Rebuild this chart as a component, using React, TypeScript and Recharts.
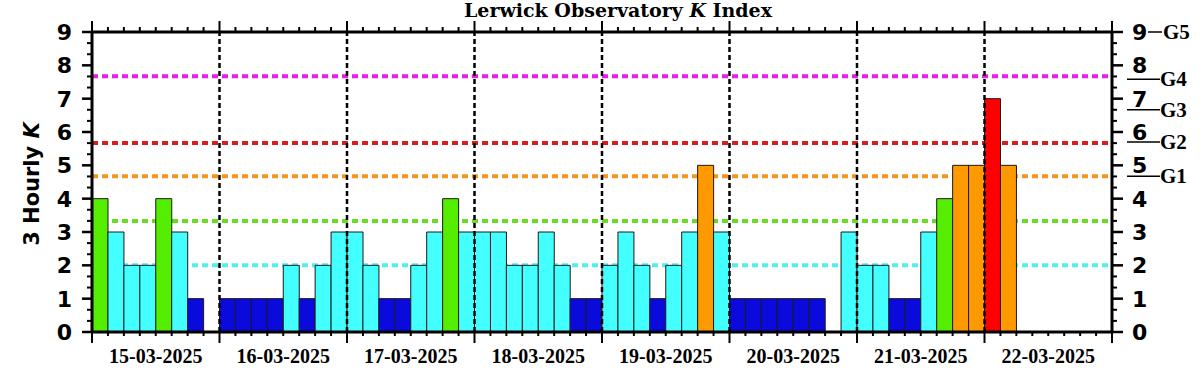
import React from "react";
import { Bar, ComposedChart, Cell, Line, ReferenceLine, XAxis, YAxis } from "recharts";

const DAYS = [
  "15-03-2025",
  "16-03-2025",
  "17-03-2025",
  "18-03-2025",
  "19-03-2025",
  "20-03-2025",
  "21-03-2025",
  "22-03-2025",
];

// 3-hourly K values, 8 per day (null = no value yet)
const K_15 = [4, 3, 2, 2, 4, 3, 1, null];
const K_16 = [1, 1, 1, 1, 2, 1, 2, 3];
const K_17 = [3, 2, 1, 1, 2, 3, 4, 3];
const K_18 = [3, 3, 2, 2, 3, 2, 1, 1];
const K_19 = [2, 3, 2, 1, 2, 3, 5, 3];
const K_20 = [1, 1, 1, 1, 1, 1, null, 3];
const K_21 = [2, 2, 1, 1, 3, 4, 5, 5];
const K_22 = [7, 5, null, null, null, null, null, null];
const K_BY_DAY = [K_15, K_16, K_17, K_18, K_19, K_20, K_21, K_22];

const THRESHOLD_LEVELS = [2, 3.33, 4.67, 5.67, 7.67];
const THRESHOLD_COLORS = ["#55eeee", "#66dd22", "#f7941d", "#d42020", "#e81ee8"];

const G_LEVELS = [4.67, 5.7, 6.67, 7.58];
const G_LABELS = ["G1", "G2", "G3", "G4"];

const SLOTS = 8 * DAYS.length;

const data = K_BY_DAY.flatMap((day, d) =>
  day.map((k, i) => ({ x: d * 8 + i + 0.5, k }))
);

const X_TICKS = Array.from({ length: SLOTS + 1 }, (_, i) => i);
const Y_TICKS = Array.from({ length: 28 }, (_, i) => i / 3);
const RIGHT_TICKS = [...Y_TICKS, ...G_LEVELS];
const DAY_LINES = Array.from({ length: DAYS.length - 1 }, (_, i) => (i + 1) * 8);

const SANS = "'DejaVu Sans', sans-serif";
const SERIF = "'Liberation Serif', serif";

function kColor(k: number) {
  if (k >= 6) return "#ff0000";
  if (k >= 5) return "#ff9900";
  if (k >= 4) return "#55ee00";
  if (k >= 2) return "#44ffff";
  return "#0a0adc";
}

const isInt = (v: number) => Math.abs(v - Math.round(v)) < 1e-6;

function BottomTick(props: any) {
  const { x, y, payload } = props;
  const v = payload.value;
  const long = v % 8 === 0;
  return (
    <g>
      <line x1={x} x2={x} y1={y} y2={y + (long ? 11 : 4)} stroke="#000" strokeWidth={2} />
      {v % 8 === 4 && (
        <text x={x} y={y + 31} textAnchor="middle" fontFamily={SERIF} fontWeight="bold" fontSize={20} fill="#000">
          {DAYS[(v - 4) / 8]}
        </text>
      )}
    </g>
  );
}

function TopTick(props: any) {
  const { x, y, payload } = props;
  const long = payload.value % 8 === 0;
  return <line x1={x} x2={x} y1={y} y2={y - (long ? 11 : 5)} stroke="#000" strokeWidth={2} />;
}

function LeftTick(props: any) {
  const { x, y, payload } = props;
  const v = payload.value;
  const major = isInt(v);
  return (
    <g>
      <line x1={x} x2={x - (major ? 10 : 5)} y1={y} y2={y} stroke="#000" strokeWidth={major ? 2.5 : 2} />
      {major && (
        <text x={x - 20} y={y} dy="0.36em" textAnchor="end" fontFamily={SANS} fontWeight="bold" fontSize={22} fill="#000">
          {Math.round(v)}
        </text>
      )}
    </g>
  );
}

function RightTick(props: any) {
  const { x, y, payload } = props;
  const v = payload.value;
  const gi = G_LEVELS.indexOf(v);
  if (gi >= 0) {
    return (
      <g>
        <line x1={x + 15} x2={x + 48} y1={y} y2={y} stroke="#000" strokeWidth={1.5} />
        <text x={x + 48} y={y} dy="0.34em" fontFamily={SERIF} fontWeight="bold" fontSize={21} fill="#000">
          {G_LABELS[gi]}
        </text>
      </g>
    );
  }
  const major = isInt(v);
  const top = major && Math.round(v) === 9;
  return (
    <g>
      <line x1={x} x2={x + (major ? 11 : 5)} y1={y} y2={y} stroke="#000" strokeWidth={major ? 2.5 : 2} />
      {major && (
        <text x={x + 20} y={y} dy="0.36em" textAnchor="start" fontFamily={SANS} fontWeight="bold" fontSize={22} fill="#000">
          {Math.round(v)}
        </text>
      )}
      {top && <line x1={x + 36} x2={x + 50} y1={y} y2={y} stroke="#000" strokeWidth={1.5} />}
      {top && (
        <text x={x + 51} y={y} dy="0.34em" fontFamily={SERIF} fontWeight="bold" fontSize={21} fill="#000">
          G5
        </text>
      )}
    </g>
  );
}

const axisLine = { stroke: "#000", strokeWidth: 3 };

export default function App() {
  return (
    <div style={{ position: "absolute", left: 0, top: 0, width: 1203, height: 375, background: "#fff" }}>
      <ComposedChart
        width={1203}
        height={375}
        data={data}
        margin={{ top: 0, right: 0, bottom: 0, left: 0 }}
        barCategoryGap={0}
        barGap={0}
      >
        <XAxis
          xAxisId="b"
          type="number"
          dataKey="x"
          domain={[0, SLOTS]}
          ticks={X_TICKS}
          interval={0}
          height={43}
          tickSize={0}
          tickMargin={0}
          tickLine={false}
          axisLine={axisLine}
          tick={BottomTick}
        />
        <XAxis
          xAxisId="t"
          orientation="top"
          type="number"
          dataKey="x"
          domain={[0, SLOTS]}
          ticks={X_TICKS}
          interval={0}
          height={32}
          tickSize={0}
          tickMargin={0}
          tickLine={false}
          axisLine={axisLine}
          tick={TopTick}
        />
        <YAxis
          yAxisId="l"
          domain={[0, 9]}
          ticks={Y_TICKS}
          interval={0}
          width={92}
          tickSize={0}
          tickMargin={0}
          tickLine={false}
          axisLine={axisLine}
          tick={LeftTick}
        />
        <YAxis
          yAxisId="r"
          orientation="right"
          domain={[0, 9]}
          allowDataOverflow
          ticks={RIGHT_TICKS}
          interval={0}
          width={91}
          tickSize={0}
          tickMargin={0}
          tickLine={false}
          axisLine={axisLine}
          tick={RightTick}
        />
        {THRESHOLD_LEVELS.map((lv, i) => (
          <ReferenceLine
            key={"h" + lv}
            xAxisId="b"
            yAxisId="l"
            y={lv}
            stroke={THRESHOLD_COLORS[i]}
            strokeWidth={4}
            strokeDasharray="6 4"
            zIndex={50}
          />
        ))}
        <Bar
          dataKey="k"
          xAxisId="b"
          yAxisId="l"
          stroke="#1a1a1a"
          strokeWidth={1}
          isAnimationActive={false}
        >
          {data.map((d, i) => (
            <Cell key={i} fill={d.k == null ? "none" : kColor(d.k)} />
          ))}
        </Bar>
        {/* invisible series so the right axis gets a scale */}
        <Line
          dataKey="k"
          xAxisId="t"
          yAxisId="r"
          stroke="none"
          dot={false}
          activeDot={false}
          legendType="none"
          isAnimationActive={false}
        />
        {DAY_LINES.map((x) => (
          <ReferenceLine
            key={"v" + x}
            xAxisId="b"
            yAxisId="l"
            x={x}
            stroke="#000"
            strokeWidth={2.5}
            strokeDasharray="5 3"
            zIndex={1500}
          />
        ))}
      </ComposedChart>
      <svg
        width={1203}
        height={375}
        style={{ position: "absolute", left: 0, top: 0, pointerEvents: "none" }}
      >
        <text x={618} y={17} textAnchor="middle" fontFamily="'DejaVu Serif', serif" fontWeight="bold" fontSize={19} fill="#000">
          Lerwick Observatory <tspan fontStyle="italic">K</tspan> Index
        </text>
        <text
          transform="translate(39,184) rotate(-90)"
          textAnchor="middle"
          fontFamily={SANS}
          fontWeight="bold"
          fontSize={21}
          fill="#000"
        >
          3 Hourly <tspan fontStyle="italic">K</tspan>
        </text>
      </svg>
    </div>
  );
}
